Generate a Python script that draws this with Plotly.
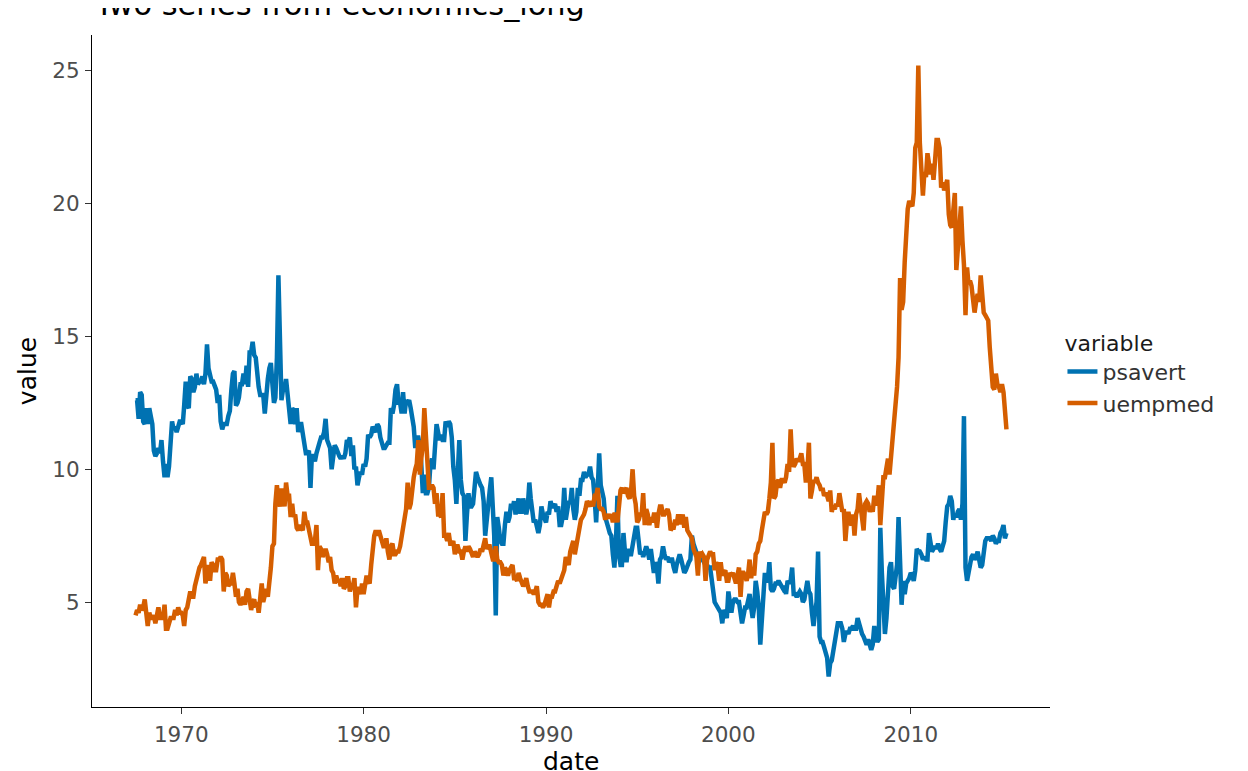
import pandas as pd
import plotly.graph_objects as go

# monthly series, Jul 1967 .. Apr 2015 (one row per year)
psavert_rows = [
    [12.6, 12.6, 11.9, 12.9, 12.8, 11.8],
    [11.7, 12.3, 11.7, 12.3, 12.0, 11.7, 10.7, 10.5, 10.6, 10.8, 10.6, 11.1],
    [10.3, 9.7, 10.2, 9.7, 10.1, 11.1, 11.8, 11.5, 11.6, 11.4, 11.6, 11.8],
    [11.8, 11.7, 12.4, 13.3, 12.4, 12.3, 13.5, 13.4, 12.9, 13.1, 13.6, 13.2],
    [13.3, 13.3, 13.5, 13.2, 13.6, 14.7, 13.8, 13.6, 13.3, 13.3, 13.1, 13.0],
    [12.5, 12.8, 11.8, 11.5, 11.7, 11.7, 11.7, 12.0, 12.2, 13.0, 13.6, 13.7],
    [12.4, 12.5, 12.7, 13.2, 13.2, 13.6, 13.2, 13.9, 13.1, 14.4, 14.4, 14.8],
    [14.3, 14.2, 13.4, 13.1, 12.8, 12.8, 12.8, 12.1, 12.9, 13.4, 13.8, 14.0],
    [13.2, 12.5, 12.7, 14.2, 17.3, 14.3, 12.6, 13.0, 13.0, 13.4, 12.7, 12.0],
    [11.7, 12.3, 12.2, 11.7, 12.3, 11.4, 11.7, 11.7, 11.4, 11.1, 10.6, 10.6],
    [10.7, 9.3, 10.5, 10.5, 10.3, 10.6, 10.9, 11.0, 11.2, 11.2, 11.4, 11.9],
    [11.1, 10.9, 10.8, 10.0, 10.7, 10.9, 10.8, 10.6, 10.5, 10.4, 10.5, 10.4],
    [10.6, 11.1, 11.0, 11.2, 10.5, 10.9, 10.0, 10.1, 9.4, 9.7, 9.9, 9.8],
    [10.2, 10.1, 10.4, 11.3, 11.2, 11.3, 11.6, 11.5, 11.4, 11.7, 11.6, 11.2],
    [10.9, 10.8, 10.8, 10.9, 11.0, 11.0, 12.3, 12.1, 12.4, 13.0, 13.2, 12.5],
    [12.5, 12.1, 12.9, 12.1, 12.6, 12.5, 12.6, 12.3, 11.9, 11.6, 10.8, 11.2],
    [11.2, 10.9, 10.2, 9.1, 9.8, 9.1, 9.1, 9.3, 10.2, 10.4, 10.0, 10.7],
    [11.7, 11.4, 11.1, 11.3, 11.1, 11.1, 11.8, 11.6, 11.8, 11.7, 11.2, 10.1],
    [9.6, 8.7, 10.1, 11.1, 9.6, 9.1, 9.0, 7.3, 8.3, 9.1, 8.6, 8.6],
    [8.7, 9.3, 9.9, 9.7, 9.5, 9.4, 9.3, 8.8, 7.5, 8.2, 8.8, 9.2],
    [9.7, 8.4, 7.5, 4.5, 8.2, 7.8, 7.3, 7.2, 7.2, 7.9, 8.4, 8.0],
    [8.2, 8.7, 8.5, 8.8, 8.3, 8.6, 8.9, 8.4, 8.4, 8.9, 8.5, 8.3],
    [8.6, 9.5, 8.9, 8.2, 8.0, 8.1, 7.9, 7.6, 7.9, 8.6, 8.3, 8.1],
    [8.0, 8.4, 8.3, 8.8, 8.6, 8.6, 8.7, 8.4, 8.6, 7.9, 7.9, 8.2],
    [9.3, 8.1, 8.4, 8.8, 8.7, 9.3, 8.5, 8.1, 8.4, 9.3, 9.0, 9.6],
    [9.6, 9.9, 9.7, 9.8, 9.8, 10.1, 9.7, 9.6, 8.9, 8.0, 9.2, 10.6],
    [9.4, 9.1, 8.9, 8.2, 7.9, 7.8, 7.6, 7.5, 6.8, 6.3, 7.2, 9.0],
    [6.8, 6.4, 6.4, 7.6, 6.9, 6.5, 7.0, 6.8, 6.8, 7.1, 7.4, 7.8],
    [7.8, 7.3, 6.8, 6.9, 6.7, 6.9, 7.1, 6.9, 6.6, 7.0, 6.6, 6.1],
    [6.5, 6.3, 5.7, 6.6, 6.7, 7.1, 6.8, 6.6, 6.7, 6.5, 6.6, 6.6],
    [6.3, 6.1, 6.4, 6.6, 6.8, 6.6, 6.3, 6.1, 6.2, 6.4, 6.5, 6.6],
    [7.5, 7.2, 7.0, 6.8, 6.7, 6.8, 6.8, 6.6, 6.5, 6.4, 6.4, 6.3],
    [6.3, 5.8, 5.3, 5.0, 4.9, 4.8, 4.7, 4.6, 4.2, 4.7, 4.6, 4.4],
    [5.4, 4.8, 4.6, 5.0, 5.1, 5.1, 5.0, 5.0, 4.4, 4.2, 4.5, 4.8],
    [4.8, 5.0, 5.3, 4.8, 4.4, 4.8, 5.8, 5.4, 4.8, 3.4, 4.3, 4.6],
    [6.1, 5.8, 5.8, 6.5, 5.5, 5.4, 5.5, 5.7, 5.7, 5.8, 5.7, 5.6],
    [5.5, 5.6, 5.3, 5.8, 5.7, 5.8, 6.3, 5.3, 5.3, 5.2, 5.3, 5.4],
    [5.3, 5.0, 5.1, 5.4, 5.8, 5.4, 5.3, 4.6, 4.1, 4.6, 5.0, 6.9],
    [3.7, 3.5, 3.5, 3.3, 3.1, 2.9, 2.2, 2.7, 2.8, 3.2, 3.6, 3.9],
    [4.2, 4.2, 4.2, 4.0, 3.5, 3.8, 3.9, 3.8, 4.0, 4.0, 4.1, 4.0],
    [4.0, 4.4, 4.2, 3.9, 3.8, 3.7, 3.5, 3.4, 3.6, 3.3, 3.2, 3.4],
    [4.1, 3.7, 3.5, 3.6, 7.8, 6.1, 4.9, 3.8, 4.4, 5.3, 6.3, 6.5],
    [5.6, 5.5, 5.9, 6.4, 8.2, 6.6, 4.9, 5.8, 5.3, 5.7, 5.8, 5.9],
    [6.1, 6.0, 5.8, 6.2, 7.0, 6.9, 6.9, 6.8, 6.6, 6.7, 6.6, 6.6],
    [7.6, 7.2, 6.9, 7.0, 7.1, 7.0, 7.2, 7.0, 6.9, 7.1, 7.3, 8.0],
    [8.6, 8.7, 9.0, 8.8, 8.1, 8.3, 8.2, 8.4, 8.5, 8.1, 8.7, 12.0],
    [6.3, 5.8, 6.1, 6.5, 6.7, 6.8, 6.6, 6.7, 6.9, 6.6, 6.3, 6.4],
    [7.1, 7.3, 7.4, 7.4, 7.4, 7.3, 7.5, 7.4, 7.2, 7.3, 7.3, 7.6],
    [7.7, 7.9, 7.4, 7.6],
]

uempmed_rows = [
    [4.5, 4.7, 4.6, 4.9, 4.7, 4.8],
    [5.1, 4.5, 4.1, 4.6, 4.4, 4.4, 4.5, 4.2, 4.6, 4.8, 4.4, 4.4],
    [4.4, 4.9, 4.0, 4.0, 4.2, 4.4, 4.4, 4.4, 4.7, 4.5, 4.8, 4.6],
    [4.6, 4.5, 4.1, 4.7, 4.8, 5.1, 5.4, 5.2, 5.2, 5.6, 5.9, 6.2],
    [6.3, 6.4, 6.5, 6.7, 5.7, 6.2, 6.4, 5.8, 6.5, 6.4, 6.2, 6.2],
    [6.6, 6.6, 6.7, 6.6, 5.4, 6.1, 6.0, 5.6, 5.7, 5.7, 6.1, 5.7],
    [5.2, 5.5, 5.0, 4.9, 5.0, 5.2, 4.9, 5.4, 5.5, 5.1, 4.7, 5.0],
    [5.1, 4.8, 5.0, 4.6, 5.3, 5.7, 5.0, 5.3, 5.5, 5.2, 5.7, 6.3],
    [7.1, 7.2, 8.7, 9.4, 8.8, 8.6, 9.2, 9.2, 8.6, 9.5, 9.0, 9.0],
    [8.2, 8.7, 8.2, 8.3, 7.8, 7.7, 7.9, 7.8, 7.7, 8.4, 8.0, 8.0],
    [7.7, 7.5, 7.2, 7.2, 7.3, 7.9, 6.2, 7.1, 7.0, 6.7, 6.9, 7.0],
    [6.8, 6.5, 6.7, 6.2, 6.1, 5.7, 6.0, 5.8, 5.8, 5.6, 5.9, 5.5],
    [5.6, 5.9, 5.9, 5.4, 5.6, 5.6, 5.9, 4.8, 5.5, 5.5, 5.3, 5.7],
    [5.3, 5.8, 6.0, 5.8, 5.7, 6.4, 7.0, 7.5, 7.7, 7.5, 7.7, 7.5],
    [7.4, 7.1, 7.1, 7.4, 6.9, 6.6, 7.1, 7.2, 6.8, 6.8, 6.9, 6.9],
    [7.1, 7.5, 7.7, 8.1, 8.5, 9.5, 8.5, 8.7, 9.5, 9.7, 10.0, 10.2],
    [11.1, 9.8, 10.4, 10.9, 12.3, 11.3, 10.1, 9.3, 9.3, 9.4, 9.3, 8.7],
    [9.1, 8.3, 8.3, 8.2, 9.1, 7.5, 7.5, 7.3, 7.6, 7.2, 7.2, 7.3],
    [6.8, 7.1, 7.1, 6.9, 6.9, 6.6, 6.9, 7.1, 6.9, 7.1, 7.0, 6.8],
    [6.7, 6.9, 6.8, 6.7, 6.8, 7.0, 6.9, 7.1, 7.4, 7.0, 7.1, 7.1],
    [6.9, 6.6, 6.6, 7.1, 6.6, 6.5, 6.5, 6.4, 6.0, 6.3, 6.2, 6.0],
    [6.2, 6.3, 6.4, 5.9, 5.9, 5.8, 6.1, 5.9, 5.7, 5.6, 5.7, 5.9],
    [5.6, 5.4, 5.4, 5.4, 5.3, 5.4, 5.6, 5.0, 4.9, 4.9, 4.8, 4.9],
    [5.1, 5.3, 4.8, 5.2, 5.2, 5.4, 5.4, 5.6, 5.8, 5.7, 5.9, 6.0],
    [6.2, 6.7, 6.6, 6.4, 6.9, 7.1, 7.3, 6.8, 7.2, 7.5, 7.8, 8.1],
    [8.2, 8.3, 8.5, 8.8, 8.7, 8.6, 8.8, 8.6, 9.0, 9.0, 9.3, 8.6],
    [8.5, 8.5, 8.4, 8.1, 8.3, 8.2, 8.2, 8.3, 8.0, 8.3, 8.3, 8.0],
    [8.6, 9.2, 9.3, 9.1, 9.2, 9.3, 9.0, 8.9, 9.2, 10.0, 9.0, 8.7],
    [8.0, 8.1, 8.3, 8.3, 9.1, 7.9, 8.5, 8.3, 7.9, 8.2, 8.0, 8.3],
    [8.3, 7.8, 8.3, 8.6, 8.6, 8.3, 8.3, 8.4, 8.5, 8.3, 7.7, 7.8],
    [7.8, 8.1, 7.9, 8.3, 8.0, 8.0, 8.3, 7.8, 8.2, 7.7, 7.6, 7.5],
    [7.4, 7.0, 6.8, 6.7, 6.0, 6.9, 6.7, 6.8, 6.7, 5.8, 6.6, 6.8],
    [6.9, 6.8, 6.8, 6.2, 6.5, 6.3, 5.8, 6.5, 6.0, 6.1, 6.2, 5.8],
    [5.8, 6.1, 6.0, 6.1, 5.8, 5.7, 6.0, 6.3, 5.2, 6.1, 6.1, 6.0],
    [5.8, 6.1, 6.6, 5.9, 6.3, 6.0, 6.8, 6.9, 7.2, 7.3, 7.7, 8.2],
    [8.4, 8.3, 8.4, 8.9, 9.5, 11.0, 8.9, 9.0, 9.5, 9.6, 9.3, 9.6],
    [9.6, 9.5, 9.7, 10.2, 9.9, 11.5, 10.3, 10.1, 10.2, 10.4, 10.3, 10.4],
    [10.6, 10.2, 10.2, 9.5, 9.9, 11.0, 8.9, 9.2, 9.6, 9.5, 9.7, 9.5],
    [9.4, 9.2, 9.3, 9.0, 9.1, 9.0, 8.8, 9.2, 8.4, 8.6, 8.5, 8.7],
    [8.6, 9.1, 8.7, 8.4, 8.5, 7.3, 8.0, 8.4, 8.0, 7.9, 8.3, 7.5],
    [8.3, 8.5, 9.1, 8.6, 8.2, 7.7, 8.7, 8.8, 8.7, 8.4, 8.6, 8.4],
    [9.0, 8.7, 8.7, 9.4, 7.9, 9.0, 9.7, 9.7, 10.2, 10.4, 9.8, 10.5],
    [10.7, 11.7, 12.3, 13.1, 14.2, 17.2, 16.0, 16.3, 17.8, 18.9, 19.8, 20.1],
    [20.0, 19.9, 20.4, 22.1, 22.3, 25.2, 22.3, 21.0, 20.3, 21.2, 21.0, 21.9],
    [21.5, 21.1, 21.5, 20.9, 21.6, 22.4, 22.4, 22.1, 20.6, 20.8, 20.5, 20.8],
    [20.9, 19.6, 19.2, 19.1, 19.9, 20.4, 17.5, 18.4, 18.8, 19.9, 18.6, 17.7],
    [15.8, 17.6, 17.0, 17.1, 16.9, 16.2, 15.9, 16.3, 16.6, 16.3, 17.3, 16.6],
    [15.9, 15.8, 15.7, 15.6, 14.6, 13.4, 13.1, 13.0, 13.6, 13.2, 13.1, 12.9],
    [13.2, 12.9, 12.0, 11.5],
]

psavert = [v for row in psavert_rows for v in row]
uempmed = [v for row in uempmed_rows for v in row]
dates = pd.date_range("1967-07-01", "2015-04-01", freq="MS")
assert len(dates) == len(psavert) == len(uempmed)

series_names = ["psavert", "uempmed"]
series_colors = ["#0072B2", "#D55E00"]
tick_years = ["1970", "1980", "1990", "2000", "2010"]
y_ticks = [5, 10, 15, 20, 25]

font_family = "DejaVu Sans"

# ggplot style 5% expansion on both scales
span = dates[-1] - dates[0]
x_range = [dates[0] - 0.05 * span, dates[-1] + 0.05 * span]
all_vals = psavert + uempmed
ypad = 0.05 * (max(all_vals) - min(all_vals))
y_range = [min(all_vals) - ypad, max(all_vals) + ypad]

fig = go.Figure()
for name, vals, col in zip(series_names, [psavert, uempmed], series_colors):
    fig.add_trace(go.Scatter(
        x=dates, y=vals, mode="lines", name=name,
        line=dict(color=col, width=4.5),
    ))

# page body has an 8px margin, so the figure is 8px smaller than the window
fig.update_layout(
    width=1240, height=763,
    margin=dict(l=84, r=198, t=27, b=64),
    paper_bgcolor="white", plot_bgcolor="white",
    font=dict(family=font_family, color="black"),
    showlegend=True,
    legend=dict(
        title=dict(text="variable", font=dict(size=22, color="#1a1a1a")),
        font=dict(size=22, color="#333333"),
        x=1.013, xanchor="left", y=0.497, yanchor="middle",
        bgcolor="rgba(0,0,0,0)", itemwidth=30,
    ),
    annotations=[
        dict(
            text="Two series from economics_long",
            xref="paper", yref="paper", x=0.0, y=1.016,
            xanchor="left", yanchor="bottom",
            showarrow=False, font=dict(size=30.4, color="black"),
        ),
        # x axis title, placed by hand so it can sit at the very bottom
        dict(
            text="date",
            xref="paper", yref="paper", x=0.5, y=0.0,
            xanchor="center", yanchor="middle", yshift=-54,
            showarrow=False, font=dict(size=25, color="black"),
        ),
    ],
)

fig.update_xaxes(
    range=x_range, showgrid=False, zeroline=False, automargin=False,
    showline=True, linecolor="black", linewidth=1.2,
    ticks="outside", ticklen=6, tickwidth=1.2, tickcolor="#333333",
    tickvals=[pd.Timestamp(y + "-01-01") for y in tick_years],
    ticktext=tick_years,
    tickfont=dict(size=21.5, color="#4d4d4d"),
    ticklabelstandoff=2,
)
fig.update_yaxes(
    range=y_range, showgrid=False, zeroline=False, automargin=False,
    showline=True, linecolor="black", linewidth=1.2,
    ticks="outside", ticklen=6, tickwidth=1.2, tickcolor="#333333",
    tickvals=y_ticks, ticktext=[str(v) for v in y_ticks],
    tickfont=dict(size=21.5, color="#4d4d4d"),
    ticklabelstandoff=1,
    title=dict(text="value", font=dict(size=25, color="black"), standoff=8),
)

fig.write_html("out.html")
